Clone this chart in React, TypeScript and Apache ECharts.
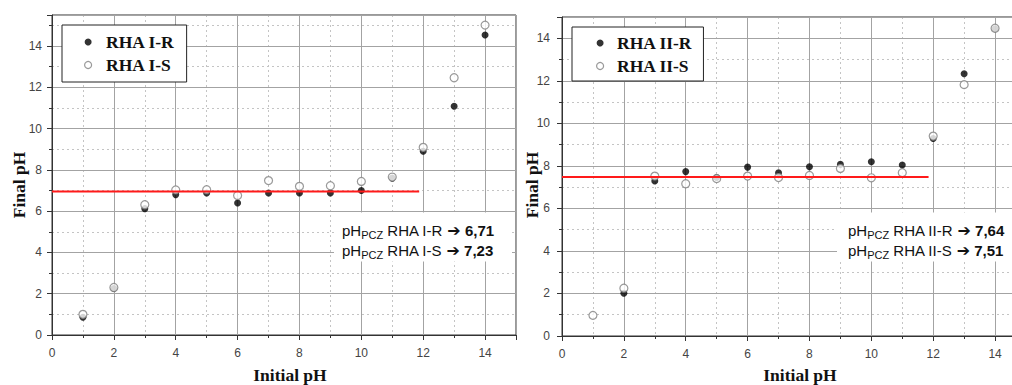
import React, { useEffect, useRef } from 'react';
import * as echarts from 'echarts';

// ---------- data ----------
const initialPH = [1, 2, 3, 4, 5, 6, 7, 8, 9, 10, 11, 12, 13, 14];
const rhaIR = [0.86, 2.25, 6.12, 6.8, 6.88, 6.39, 6.88, 6.88, 6.88, 7.0, 7.6, 8.9, 11.08, 14.53];
const rhaIS = [1.0, 2.3, 6.31, 7.03, 7.04, 6.76, 7.48, 7.2, 7.23, 7.44, 7.65, 9.09, 12.46, 15.01];
const rhaIIR: (number | null)[] = [null, 2.01, 7.29, 7.73, 7.45, 7.94, 7.68, 7.96, 8.07, 8.19, 8.04, 9.29, 12.33, 14.45];
const rhaIIS = [0.97, 2.25, 7.52, 7.16, 7.4, 7.52, 7.45, 7.55, 7.88, 7.44, 7.68, 9.4, 11.82, 14.47];
const pczLineLeft = [[0, 6.95], [11.87, 6.95]];
const pczLineRight = [[0, 7.48], [11.85, 7.48]];
const majorTicks = [0, 2, 4, 6, 8, 10, 12, 14];
const leftNotes = [
  { sample: 'RHA I-R', value: '6,71' },
  { sample: 'RHA I-S', value: '7,23' },
];
const rightNotes = [
  { sample: 'RHA II-R', value: '7,64' },
  { sample: 'RHA II-S', value: '7,51' },
];

const toPoints = (ys: (number | null)[]) =>
  initialPH.map((x, i) => [x, ys[i]]).filter((p) => p[1] !== null);

const labelFmt = (v: number) => (majorTicks.includes(v) ? String(v) : '');

function majorAxis(dim: 'x' | 'y', gridIndex: number, max: number, margin: number) {
  return {
    type: 'value',
    gridIndex,
    min: 0,
    max,
    interval: 2,
    z: 1,
    position: dim === 'x' ? 'bottom' : 'left',
    axisLine: { show: true, onZero: false, lineStyle: { color: '#333', width: 1 } },
    axisTick: { show: true, length: 5, lineStyle: { color: '#333' } },
    axisLabel: {
      show: true,
      margin,
      color: '#444',
      fontSize: 12,
      fontFamily: 'Liberation Sans',
      formatter: labelFmt,
    },
    splitLine: { show: true, lineStyle: { color: '#a3a3a3', width: 1 } },
  };
}

function minorAxis(dim: 'x' | 'y', gridIndex: number, max: number) {
  return {
    type: 'value',
    gridIndex,
    min: 0,
    max,
    interval: 1,
    z: 0,
    position: dim === 'x' ? 'bottom' : 'left',
    axisLine: { show: false, onZero: false },
    axisTick: { show: true, length: 3, lineStyle: { color: '#333' } },
    axisLabel: { show: false },
    splitLine: {
      show: true,
      lineStyle: { color: '#c4c4c4', width: 1, type: [2, 3] },
    },
  };
}

const noteText = (notes: { sample: string; value: string }[]) =>
  notes.map((n) => `{n|pH}{s|PCZ}{n| ${n.sample} }{a|➔}{b| ${n.value}}`).join('\n');

const noteRich = {
  n: { fontSize: 15, fontFamily: 'Liberation Sans', lineHeight: 20, fill: '#111' },
  s: { fontSize: 11, fontFamily: 'Liberation Sans', lineHeight: 11, verticalAlign: 'bottom', fill: '#111' },
  a: { fontSize: 16, fontFamily: 'DejaVu Sans', fontWeight: 'bold', lineHeight: 20, fill: '#111' },
  b: { fontSize: 15, fontFamily: 'Liberation Sans', fontWeight: 'bold', lineHeight: 20, fill: '#111' },
};

const titleFont = { fontSize: 17.5, fontFamily: 'Liberation Serif', fontWeight: 'bold', fill: '#111' };

function legendOpt(names: string[], left: number, top: number, itemWidth: number, padding: number[]) {
  return {
    show: true,
    orient: 'vertical',
    left,
    top,
    padding,
    itemGap: 3,
    itemWidth,
    itemHeight: 7,
    backgroundColor: '#fff',
    borderColor: '#222',
    borderWidth: 1,
    selectedMode: false,
    data: [
      { name: names[0], icon: 'circle', itemStyle: { color: '#000', borderWidth: 0 } },
      { name: names[1], icon: 'circle', itemStyle: { color: '#fff', borderColor: '#808080', borderWidth: 1.2 } },
    ],
    textStyle: {
      fontFamily: 'Liberation Serif',
      fontWeight: 'bold',
      fontSize: 17.5,
      color: '#111',
      lineHeight: 20,
    },
  };
}

export default function App() {
  const ref = useRef<HTMLDivElement>(null);

  useEffect(() => {
    if (!ref.current) return;
    const chart = echarts.init(ref.current, undefined, { renderer: 'svg' });
    const option: any = {
      animation: false,
      backgroundColor: '#fff',
      grid: [
        {
          left: 52, top: 15, width: 464, height: 320,
          show: true, borderColor: '#333', borderWidth: 1,
          containLabel: false, outerBoundsMode: 'none',
        },
        {
          left: 562, top: 17, width: 464, height: 319,
          show: true, borderColor: '#333', borderWidth: 1,
          containLabel: false, outerBoundsMode: 'none',
        },
      ],
      xAxis: [
        minorAxis('x', 0, 15),
        majorAxis('x', 0, 15, 12),
        minorAxis('x', 1, 15),
        majorAxis('x', 1, 15, 12),
      ],
      yAxis: [
        minorAxis('y', 0, 15.5),
        majorAxis('y', 0, 15.5, 10),
        minorAxis('y', 1, 15),
        majorAxis('y', 1, 15, 12),
      ],
      legend: [
        legendOpt(['RHA I-R', 'RHA I-S'], 62, 25, 26, [7, 12, 7, 22]),
        legendOpt(['RHA II-R', 'RHA II-S'], 572, 27, 24, [6, 11, 5, 24]),
      ],
      series: [
        {
          type: 'scatter', name: 'RHA I-R', xAxisIndex: 1, yAxisIndex: 1,
          data: toPoints(rhaIR), symbol: 'circle', symbolSize: 7,
          itemStyle: { color: '#000' }, z: 3,
        },
        {
          type: 'scatter', name: 'RHA I-S', xAxisIndex: 1, yAxisIndex: 1,
          data: toPoints(rhaIS), symbol: 'circle', symbolSize: 8,
          itemStyle: { color: '#fff', borderColor: '#808080', borderWidth: 1.2 }, z: 4,
        },
        {
          type: 'line', name: 'pHpcz I', xAxisIndex: 1, yAxisIndex: 1,
          data: pczLineLeft, symbol: 'none', silent: true,
          lineStyle: { color: '#ff1a1a', width: 2 }, z: 5,
        },
        {
          type: 'scatter', name: 'RHA II-R', xAxisIndex: 3, yAxisIndex: 3,
          data: toPoints(rhaIIR), symbol: 'circle', symbolSize: 7,
          itemStyle: { color: '#000' }, z: 3,
        },
        {
          type: 'scatter', name: 'RHA II-S', xAxisIndex: 3, yAxisIndex: 3,
          data: toPoints(rhaIIS), symbol: 'circle', symbolSize: 8,
          itemStyle: { color: '#fff', borderColor: '#808080', borderWidth: 1.2 }, z: 4,
        },
        {
          type: 'line', name: 'pHpcz II', xAxisIndex: 3, yAxisIndex: 3,
          data: pczLineRight, symbol: 'none', silent: true,
          lineStyle: { color: '#ff1a1a', width: 2 }, z: 5,
        },
      ],
      graphic: [
        {
          type: 'text', x: 19, y: 185, rotation: Math.PI / 2, z: 10,
          style: { text: 'Final pH', ...titleFont, align: 'center', verticalAlign: 'middle' },
        },
        {
          type: 'text', x: 532, y: 185, rotation: Math.PI / 2, z: 10,
          style: { text: 'Final pH', ...titleFont, align: 'center', verticalAlign: 'middle' },
        },
        {
          type: 'text', x: 290, y: 375, z: 10,
          style: { text: 'Initial pH', ...titleFont, align: 'center', verticalAlign: 'middle' },
        },
        {
          type: 'text', x: 800, y: 375, z: 10,
          style: { text: 'Initial pH', ...titleFont, align: 'center', verticalAlign: 'middle' },
        },
        {
          type: 'rect', z: 8, shape: { x: 334, y: 212.5, width: 178, height: 49 },
          style: { fill: '#fff' },
        },
        {
          type: 'rect', z: 8, shape: { x: 837, y: 212.5, width: 180, height: 49 },
          style: { fill: '#fff' },
        },
        {
          type: 'text', x: 342, y: 220, z: 9,
          style: { text: noteText(leftNotes), rich: noteRich, verticalAlign: 'top', align: 'left' },
        },
        {
          type: 'text', x: 848, y: 220, z: 9,
          style: { text: noteText(rightNotes), rich: noteRich, verticalAlign: 'top', align: 'left' },
        },
      ],
    };
    chart.setOption(option);
    return () => chart.dispose();
  }, []);

  return (
    <div
      ref={ref}
      style={{ position: 'absolute', left: 0, top: 0, width: 1012, height: 385 }}
    />
  );
}
